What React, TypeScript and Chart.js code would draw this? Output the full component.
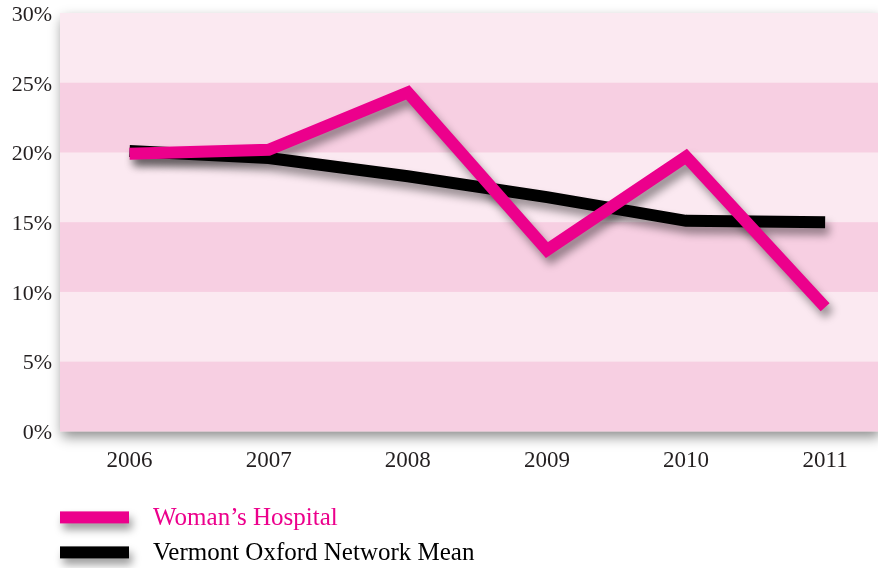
import React, { useEffect, useRef } from 'react';
import { Chart, registerables } from 'chart.js';

Chart.register(...registerables);

const years = [2006, 2007, 2008, 2009, 2010, 2011];
const womansHospital = [19.9, 20.2, 24.3, 13.0, 19.7, 8.9];
const vonMean = [20.1, 19.6, 18.3, 16.8, 15.1, 15.0];
const yTicks = [0, 5, 10, 15, 20, 25, 30];
const seriesNames = ['Woman\u2019s Hospital', 'Vermont Oxford Network Mean'];

const PINK = '#ec008c';
const BLACK = '#000000';
const TEXT = '#231f20';
const LIGHT_BAND = '#fbe9f1';
const DARK_BAND = '#f7cfe2';
const FONT = '"Liberation Serif", "Times New Roman", serif';

const bandsPlugin = {
  id: 'bands',
  beforeDraw(chart: any) {
    const { ctx, chartArea, scales } = chart;
    const { left, right, top, bottom } = chartArea;
    const y = scales.y;
    ctx.save();
    ctx.shadowColor = 'rgba(0,0,0,0.45)';
    ctx.shadowBlur = 12;
    ctx.shadowOffsetX = 2;
    ctx.shadowOffsetY = 6;
    ctx.fillStyle = LIGHT_BAND;
    ctx.fillRect(left, top, right - left, bottom - top);
    ctx.restore();
    ctx.save();
    ctx.fillStyle = DARK_BAND;
    for (let i = 0; i + 1 < yTicks.length; i += 2) {
      const y0 = y.getPixelForValue(yTicks[i]);
      const y1 = y.getPixelForValue(yTicks[i + 1]);
      ctx.fillRect(left, y1, right - left, y0 - y1);
    }
    ctx.restore();
  },
};

const shadowPlugin = {
  id: 'lineShadow',
  beforeDatasetDraw(chart: any) {
    const ctx = chart.ctx;
    ctx.save();
    ctx.shadowColor = 'rgba(0,0,0,0.4)';
    ctx.shadowBlur = 9;
    ctx.shadowOffsetX = 4;
    ctx.shadowOffsetY = 7;
  },
  afterDatasetDraw(chart: any) {
    chart.ctx.restore();
  },
};

const legendPlugin = {
  id: 'stackLegend',
  afterDraw(chart: any) {
    const { ctx, chartArea } = chart;
    const left = chartArea.left;
    chart.data.datasets.forEach((ds: any, i: number) => {
      const cy = chartArea.bottom + 86 + i * 35;
      ctx.save();
      ctx.shadowColor = 'rgba(0,0,0,0.4)';
      ctx.shadowBlur = 8;
      ctx.shadowOffsetX = 3;
      ctx.shadowOffsetY = 6;
      ctx.fillStyle = ds.borderColor;
      ctx.fillRect(left, cy - 6, 69, 12);
      ctx.restore();
      ctx.save();
      ctx.font = `25px ${FONT}`;
      ctx.fillStyle = ds.legendTextColor;
      ctx.textBaseline = 'middle';
      ctx.textAlign = 'left';
      ctx.fillText(ds.label, left + 93, cy + 1);
      ctx.restore();
    });
  },
};

export default function App() {
  const ref = useRef<HTMLCanvasElement | null>(null);
  useEffect(() => {
    if (!ref.current) return;
    const chart = new Chart(ref.current, {
      type: 'line',
      data: {
        datasets: [
          {
            label: seriesNames[0],
            data: years.map((x, i) => ({ x, y: womansHospital[i] })),
            borderColor: PINK,
            backgroundColor: PINK,
            borderWidth: 12,
            borderJoinStyle: 'miter',
            borderCapStyle: 'butt',
            pointRadius: 0,
            tension: 0,
            legendTextColor: PINK,
          } as any,
          {
            label: seriesNames[1],
            data: years.map((x, i) => ({ x, y: vonMean[i] })),
            borderColor: BLACK,
            backgroundColor: BLACK,
            borderWidth: 12,
            borderJoinStyle: 'miter',
            borderCapStyle: 'butt',
            pointRadius: 0,
            tension: 0,
            legendTextColor: BLACK,
          } as any,
        ],
      },
      options: {
        animation: false,
        responsive: true,
        maintainAspectRatio: false,
        layout: { padding: { top: 13, bottom: 77, left: 0, right: 0 } },
        plugins: {
          legend: { display: false },
          tooltip: { enabled: false },
          title: { display: false },
        },
        scales: {
          x: {
            type: 'linear',
            min: 2005.5,
            max: 2011.38,
            grid: { display: false, drawTicks: false },
            border: { display: false },
            afterBuildTicks: (scale: any) => {
              scale.ticks = years.map((v) => ({ value: v }));
            },
            ticks: {
              autoSkip: false,
              maxRotation: 0,
              padding: 16,
              color: TEXT,
              font: { family: FONT, size: 23 },
              callback: (v: any) => String(v),
            },
          },
          y: {
            min: 0,
            max: 30,
            grid: { display: false, drawTicks: false },
            border: { display: false },
            afterBuildTicks: (scale: any) => {
              scale.ticks = yTicks.map((v) => ({ value: v }));
            },
            afterFit: (scale: any) => {
              scale.width = 60;
              scale.paddingTop = 0;
              scale.paddingBottom = 0;
            },
            ticks: {
              padding: 8,
              labelOffset: 2,
              color: TEXT,
              font: { family: FONT, size: 22 },
              callback: (v: any) => `${v}%`,
            },
          },
        },
      },
      plugins: [bandsPlugin, shadowPlugin, legendPlugin],
    });
    return () => chart.destroy();
  }, []);
  return (
    <div style={{ position: 'absolute', left: 0, top: 0, width: 878, height: 568, background: '#fff' }}>
      <canvas ref={ref} />
    </div>
  );
}
